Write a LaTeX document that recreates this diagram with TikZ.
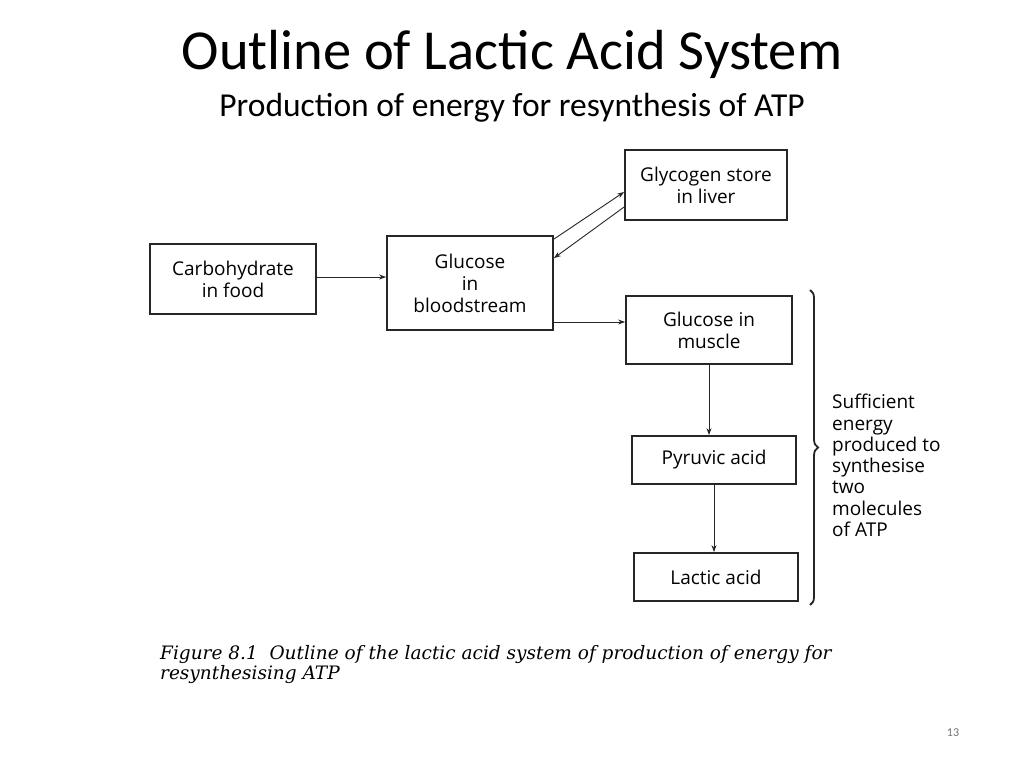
\documentclass[tikz,border=0pt]{standalone}
\usepackage{fontspec}
\setmainfont{Carlito}
\newfontfamily\boxfont{Open Sans}
\newfontfamily\capfont{DejaVu Serif}
\usetikzlibrary{arrows.meta,decorations.pathreplacing}
\begin{document}
\begin{tikzpicture}[x=1pt,y=-1pt,
  box/.style={draw=black!85,line width=1.8pt,minimum width=#1,inner sep=0pt,align=center,
    font=\boxfont\fontsize{19}{22}\selectfont},
  arr/.style={draw=black!85,line width=0.9pt,-{Stealth[length=7pt,width=5pt]}},
]
\useasboundingbox[fill=white] (0,0) rectangle (1024,768);
\node (title) at (512,54) {\fontsize{56.5}{60}\selectfont Outline of Lactic Acid System};
\node (sub) at (512,108) {\fontsize{33.5}{38}\selectfont Production of energy for resynthesis of ATP};

\node[box=166pt,minimum height=70pt] (carb) at (233,279) {Carbohydrate\\in food};
\node[box=166pt,minimum height=94pt] (blood) at (470,283) {Glucose\\in\\bloodstream};
\node[box=162pt,minimum height=70pt] (glyc) at (706,185) {Glycogen store\\in liver};
\node[box=166pt,minimum height=68pt] (muscle) at (709,330) {Glucose in\\muscle};
\node[box=164pt,minimum height=48pt] (pyr) at (714,460) {Pyruvic acid};
\node[box=164pt,minimum height=48pt] (lac) at (716,577) {Lactic acid};

\draw[arr] ([yshift=2pt]carb.east) -- ([yshift=2pt]carb.east -| blood.west);
\draw[arr] ([yshift=-4pt]blood.north east) -- ([yshift=-7pt]glyc.west);
\draw[arr] ([yshift=-22pt]glyc.west) -- ([yshift=-23pt]blood.north east);
\draw[arr] ([yshift=-39pt]blood.east) -- ([yshift=-39pt]blood.east -| muscle.west);
\draw[arr] (muscle.south) -- (muscle.south |- pyr.north);
\draw[arr] (pyr.south) -- (pyr.south |- lac.north);

\coordinate (bt) at (810,290);
\coordinate (bb) at (810,605);
\draw[line width=1.8pt,black!85,decorate,decoration={brace,amplitude=8pt}] (bt) -- (bb);
\node[anchor=north west,align=left,inner sep=0pt,font=\boxfont\fontsize{19}{21.3}\selectfont] (note) at (832,394)
  {Sufficient\\energy\\produced to\\synthesise\\two\\molecules\\of ATP};

\node[anchor=north west,align=left,inner sep=0pt,font=\capfont\itshape\fontsize{18.5}{20.5}\selectfont] (cap) at (160,645)
  {Figure 8.1\ \ Outline of the lactic acid system of production of energy for\\resynthesising ATP};

\node[text=black!55,font=\fontsize{12}{14}\selectfont] (pg) at (953,733) {13};
\end{tikzpicture}
\end{document}
